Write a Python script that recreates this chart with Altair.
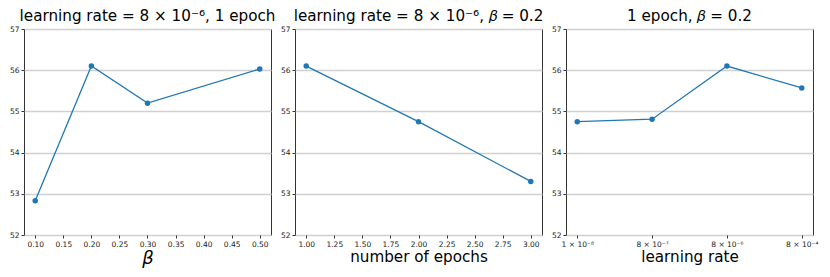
import altair as alt
import pandas as pd

# ---- data ----
beta_vals = [0.1, 0.2, 0.3, 0.5]
beta_acc = [52.83, 56.1, 55.2, 56.03]

epoch_vals = [1, 2, 3]
epoch_acc = [56.1, 54.75, 53.3]

lr_labels = ["1 × 10⁻⁸", "8 × 10⁻⁷", "8 × 10⁻⁶", "8 × 10⁻⁴"]
lr_acc = [54.75, 54.81, 56.1, 55.57]

titles = [
    "learning rate = 8 × 10⁻⁶, 1 epoch",
    "learning rate = 8 × 10⁻⁶, 𝛽 = 0.2",
    "1 epoch, 𝛽 = 0.2",
]

FONT = "DejaVu Sans"
BLUE = "#1f77b4"
W, H = 247, 206

y_enc = alt.Y(
    "acc:Q",
    scale=alt.Scale(domain=[52, 57], nice=False, zero=False),
    axis=alt.Axis(values=[52, 53, 54, 55, 56, 57], title=None, grid=True,
                  minExtent=14, maxExtent=14),
)


def panel(df, x_enc, title):
    return (
        alt.Chart(df)
        .mark_line(color=BLUE, strokeWidth=1.3,
                   point=alt.OverlayMarkDef(color=BLUE, filled=True, size=30, opacity=1))
        .encode(x=x_enc, y=y_enc)
        .properties(width=W, height=H, title=title)
    )


df1 = pd.DataFrame({"x": beta_vals, "acc": beta_acc})
p1 = panel(
    df1,
    alt.X("x:Q", scale=alt.Scale(domain=[0.08, 0.52], nice=False, zero=False),
          axis=alt.Axis(values=[0.10, 0.15, 0.20, 0.25, 0.30, 0.35, 0.40, 0.45, 0.50],
                        format=".2f", title="β", titleFontStyle="italic",
                        titleFontSize=18, grid=False)),
    titles[0],
)

df2 = pd.DataFrame({"x": epoch_vals, "acc": epoch_acc})
p2 = panel(
    df2,
    alt.X("x:Q", scale=alt.Scale(domain=[0.9, 3.1], nice=False, zero=False),
          axis=alt.Axis(values=[1.0, 1.25, 1.5, 1.75, 2.0, 2.25, 2.5, 2.75, 3.0],
                        format=".2f", title="number of epochs", grid=False)),
    titles[1],
)

df3 = pd.DataFrame({"x": list(range(len(lr_labels))), "acc": lr_acc})
label_expr = "[" + ",".join("'" + s + "'" for s in lr_labels) + "][datum.value]"
p3 = panel(
    df3,
    alt.X("x:Q", scale=alt.Scale(domain=[-0.15, 3.15], nice=False, zero=False),
          axis=alt.Axis(values=list(range(len(lr_labels))), labelExpr=label_expr,
                        title="learning rate", grid=False)),
    titles[2],
)

chart = (
    alt.hconcat(p1, p2, p3, spacing=24, bounds="flush", padding=0)
    .configure_view(stroke="#333333", strokeWidth=1)
    .configure_axis(
        domain=False,
        labelFont=FONT, labelFontSize=7.5, labelColor="#222222",
        tickColor="#333333", tickSize=3, labelPadding=2,
        titleFont=FONT, titleFontSize=15.2, titleFontWeight="normal", titleColor="black",
        titlePadding=2, gridColor="#d0d0d0", gridWidth=1.3,
    )
    .configure_title(font=FONT, fontSize=15.2, fontWeight="normal", color="black", offset=1)
)

chart.save("out.html", embed_options={"renderer": "svg", "actions": False})
